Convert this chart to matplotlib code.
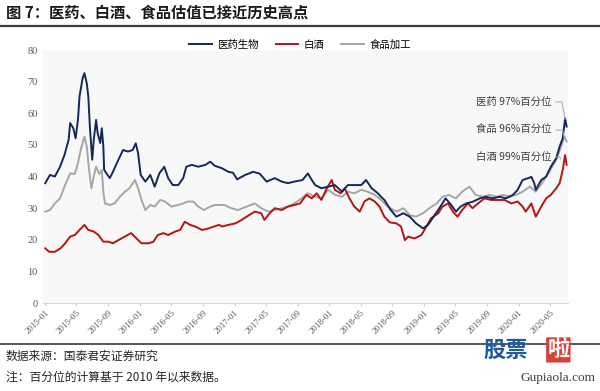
import matplotlib
matplotlib.use("Agg")
import matplotlib.pyplot as plt
import matplotlib.dates as mdates
import pandas as pd

plt.rcParams['font.family'] = ['Noto Sans CJK SC', 'DejaVu Sans']

# ---------------- data ----------------
med_dates = ["2015-01-01","2015-01-19","2015-02-07","2015-02-27","2015-03-16","2015-04-01","2015-04-07","2015-04-19",
             "2015-04-28","2015-05-07","2015-05-13","2015-05-25","2015-06-01","2015-06-10","2015-06-16","2015-06-22",
             "2015-07-01","2015-07-07","2015-07-16","2015-07-22","2015-08-01","2015-08-07","2015-08-13","2015-08-16",
             "2015-08-25","2015-09-07","2015-09-19","2015-10-10","2015-10-28","2015-11-16","2015-12-04","2015-12-16",
             "2015-12-25","2016-01-04","2016-01-22","2016-02-10","2016-02-27","2016-03-16","2016-04-04","2016-04-19",
             "2016-05-07","2016-05-28","2016-06-16","2016-06-28","2016-07-19","2016-08-13","2016-09-10","2016-09-28",
             "2016-10-16","2016-11-13","2016-12-07","2016-12-25","2017-01-10","2017-02-10","2017-03-13","2017-04-07",
             "2017-05-04","2017-06-04","2017-07-01","2017-07-25","2017-08-19","2017-09-19","2017-10-10","2017-10-25",
             "2017-11-07","2017-12-01","2017-12-28","2018-01-22","2018-02-19","2018-03-13","2018-04-07","2018-05-04",
             "2018-05-22","2018-06-13","2018-07-07","2018-07-19","2018-08-01","2018-08-22","2018-09-16","2018-10-13",
             "2018-11-07","2018-12-01","2018-12-28","2019-01-16","2019-02-07","2019-03-01","2019-03-25","2019-04-16",
             "2019-05-04","2019-05-22","2019-06-13","2019-07-07","2019-08-04","2019-08-28","2019-09-22","2019-10-19",
             "2019-11-13","2019-12-10","2019-12-28","2020-01-16","2020-02-07","2020-02-19","2020-03-01","2020-03-07",
             "2020-03-28","2020-04-16","2020-05-04","2020-05-25","2020-06-07","2020-06-19","2020-06-28","2020-07-04"]
med_vals = [37.9,40.5,40.0,43.1,46.8,51.6,56.9,55.3,
            52.1,57.9,65.3,71.1,72.7,69.5,65.3,55.8,
            45.3,51.6,57.9,53.7,50.6,55.3,49.5,42.1,
            41.0,39.5,41.5,45.3,48.4,47.9,48.4,50.5,
            47.4,40.5,38.4,40.5,36.8,41.0,43.1,39.5,
            37.3,37.3,39.5,43.1,43.7,43.1,43.7,44.7,
            43.4,42.6,41.5,41.2,39.1,40.5,41.5,40.9,
            38.4,39.5,38.4,37.9,38.4,38.9,41.0,38.9,
            37.3,36.3,36.8,37.3,35.2,37.3,37.3,37.3,
            38.9,36.3,34.7,33.6,32.6,29.8,27.3,28.4,
            27.3,25.2,23.6,24.7,27.3,30.0,33.1,31.0,
            28.9,30.5,31.5,32.0,33.1,33.6,33.1,33.6,
            33.1,34.2,35.8,38.9,39.5,39.9,37.9,35.8,
            38.9,40.0,43.1,45.8,49.5,52.1,58.4,55.8]

food_dates = ["2015-01-01","2015-01-19","2015-02-07","2015-02-27","2015-03-16","2015-04-07","2015-04-25","2015-05-07",
              "2015-05-19","2015-06-01","2015-06-10","2015-06-19","2015-06-28","2015-07-07","2015-07-16","2015-07-28",
              "2015-08-07","2015-08-13","2015-08-19","2015-09-07","2015-09-25","2015-10-16","2015-11-04","2015-11-22",
              "2015-12-13","2015-12-25","2016-01-07","2016-01-22","2016-02-10","2016-02-27","2016-03-19","2016-04-07",
              "2016-05-01","2016-05-28","2016-06-16","2016-07-04","2016-07-25","2016-08-13","2016-09-04","2016-09-28",
              "2016-10-16","2016-11-22","2016-12-19","2017-01-13","2017-02-16","2017-03-19","2017-04-13","2017-05-10",
              "2017-06-04","2017-07-01","2017-07-25","2017-08-19","2017-09-16","2017-10-10","2017-11-07","2017-12-01",
              "2017-12-28","2018-01-22","2018-02-19","2018-03-13","2018-04-07","2018-05-04","2018-05-28","2018-06-25",
              "2018-07-19","2018-08-07","2018-08-28","2018-09-16","2018-10-13","2018-11-07","2018-12-01","2018-12-28",
              "2019-01-22","2019-02-19","2019-03-13","2019-04-07","2019-05-04","2019-05-28","2019-06-25","2019-07-19",
              "2019-08-16","2019-09-10","2019-10-07","2019-11-01","2019-11-28","2019-12-22","2020-01-16","2020-02-13",
              "2020-03-07","2020-04-04","2020-04-28","2020-05-25","2020-06-13","2020-06-25","2020-07-04"]
food_vals = [28.9,29.4,31.5,33.1,36.8,41.0,40.8,44.2,
             48.9,52.6,49.5,42.1,36.3,40.0,43.1,40.8,
             42.1,35.2,31.5,31.0,31.5,33.6,35.2,36.3,
             38.9,36.3,32.6,29.4,31.0,30.5,32.6,32.1,
             30.5,31.0,31.5,32.1,32.1,30.5,29.4,30.5,
             31.0,31.0,30.0,29.4,30.5,31.5,30.0,28.9,
             29.4,30.0,30.5,31.5,33.1,34.7,33.6,33.1,
             35.8,34.2,33.6,35.2,34.7,35.8,35.2,34.2,
             32.6,31.0,29.8,28.9,30.0,27.8,27.3,28.4,
             30.0,31.5,33.6,34.2,33.1,35.2,36.8,34.2,
             33.6,34.2,33.6,34.2,33.6,34.2,35.2,36.8,
             35.2,38.4,41.5,45.3,49.5,52.6,51.1]

liquor_dates = ["2015-01-01","2015-01-16","2015-02-07","2015-03-01","2015-03-19","2015-04-07","2015-04-25","2015-05-13",
                "2015-06-01","2015-06-16","2015-07-07","2015-07-25","2015-08-13","2015-09-01","2015-09-19","2015-10-10",
                "2015-11-04","2015-11-28","2015-12-19","2016-01-07","2016-02-04","2016-02-22","2016-03-10","2016-04-01",
                "2016-04-19","2016-05-16","2016-06-04","2016-06-22","2016-07-13","2016-08-01","2016-08-28","2016-09-22",
                "2016-10-13","2016-11-01","2016-11-13","2016-12-07","2017-01-04","2017-01-28","2017-02-25","2017-03-19",
                "2017-04-13","2017-04-25","2017-05-16","2017-06-04","2017-07-01","2017-07-25","2017-08-19","2017-09-10",
                "2017-10-04","2017-10-25","2017-11-13","2017-12-01","2017-12-22","2018-01-10","2018-01-22","2018-02-13",
                "2018-03-01","2018-03-19","2018-04-07","2018-04-28","2018-05-16","2018-06-04","2018-06-25","2018-07-13",
                "2018-08-01","2018-08-22","2018-09-16","2018-10-04","2018-10-19","2018-11-01","2018-11-25","2018-12-22",
                "2019-01-10","2019-01-28","2019-02-25","2019-03-13","2019-04-04","2019-04-22","2019-05-10","2019-05-28",
                "2019-06-19","2019-07-07","2019-07-28","2019-08-22","2019-09-16","2019-10-13","2019-11-07","2019-12-04",
                "2019-12-28","2020-01-16","2020-01-28","2020-02-19","2020-03-07","2020-03-28","2020-04-16","2020-05-04",
                "2020-05-25","2020-06-07","2020-06-19","2020-06-28","2020-07-04"]
liquor_vals = [17.3,16.2,16.2,17.3,18.9,21.0,21.5,23.1,
               24.7,23.1,22.6,21.5,19.4,19.4,18.9,19.9,
               21.0,22.1,20.4,18.9,18.9,19.4,21.5,22.1,
               21.5,22.6,23.1,25.7,24.7,24.2,23.1,23.6,
               24.2,24.7,24.2,24.7,25.2,26.3,27.8,28.9,
               28.4,26.3,28.4,30.0,29.4,30.5,31.0,31.5,
               34.2,33.1,34.7,32.6,36.3,38.9,35.8,34.7,
               36.3,33.1,30.5,28.9,32.1,33.1,32.1,30.5,
               27.3,25.5,25.2,24.2,19.9,21.0,20.4,21.5,
               24.2,26.8,28.4,30.5,31.5,28.9,27.3,29.4,
               31.5,30.0,31.5,33.1,32.6,32.6,32.6,31.5,
               32.1,30.5,28.9,31.5,27.3,30.5,33.1,34.2,
               36.3,37.9,42.1,46.8,43.7]

series_names = ["医药生物", "白酒", "食品加工"]
tick_labels = ["2015-01","2015-05","2015-09","2016-01","2016-05","2016-09","2017-01","2017-05","2017-09",
               "2018-01","2018-05","2018-09","2019-01","2019-05","2019-09","2020-01","2020-05"]
note_texts = ["医药 97%百分位", "食品 96%百分位", "白酒 99%百分位"]
note_text_pos = [("2019-07-21", 63.6), ("2019-07-21", 54.7), ("2019-07-21", 46.2)]
note_targets = [("2020-06-28", 58.0), ("2020-06-25", 52.0), ("2020-06-10", 45.5)]

title = "图 7：医药、白酒、食品估值已接近历史高点"
footer1 = "数据来源：国泰君安证券研究"
footer2 = "注：百分位的计算基于 2010 年以来数据。"

# ---------------- figure ----------------
fig = plt.figure(figsize=(6.0, 3.91), dpi=100)
ax = fig.add_axes([0.072, 0.225, 0.875, 0.647])
ax.set_facecolor('#f8f8f8')

c_med, c_liq, c_food = '#14285a', '#b41414', '#a6a6a6'
ax.plot(pd.to_datetime(food_dates), food_vals, color=c_food, lw=1.4, label=series_names[2], zorder=2)
ax.plot(pd.to_datetime(liquor_dates), liquor_vals, color=c_liq, lw=1.4, label=series_names[1], zorder=3)
ax.plot(pd.to_datetime(med_dates), med_vals, color=c_med, lw=1.4, label=series_names[0], zorder=4)

ax.set_ylim(0, 80)
ax.set_yticks(range(0, 81, 10))
ax.set_xlim(pd.Timestamp("2014-12-24"), pd.Timestamp("2020-07-10"))
ax.set_xticks(pd.to_datetime(tick_labels))
ax.set_xticklabels(tick_labels, rotation=45, ha='right', rotation_mode='anchor',
                   fontsize=6.5, color='#595959', family=['Liberation Serif'])
for lab in ax.get_yticklabels():
    lab.set_fontfamily(['Liberation Serif'])
    lab.set_fontsize(7.5)
    lab.set_color('#595959')
ax.tick_params(axis='y', length=0, pad=4)
ax.tick_params(axis='x', length=2, color='#d0d0d0', pad=2)
for s in ['top', 'right', 'left']:
    ax.spines[s].set_visible(False)
ax.spines['bottom'].set_color('#d9d9d9')
ax.spines['bottom'].set_linewidth(0.8)

# annotations
for txt, (tx, ty), (px, py) in zip(note_texts, note_text_pos, note_targets):
    ax.annotate(txt, xy=(pd.Timestamp(px), py), xytext=(pd.Timestamp(tx), ty),
                fontsize=7.5, color='#404040', ha='left', va='center',
                arrowprops=dict(arrowstyle='-', color='#a6a6a6', lw=0.7, shrinkA=1, shrinkB=0,
                                connectionstyle='angle,angleA=0,angleB=100,rad=0'),
                zorder=5)

# legend
h, l = ax.get_legend_handles_labels()
order = [2, 1, 0]
fig.legend([h[i] for i in order], [l[i] for i in order], loc='center', bbox_to_anchor=(0.5, 0.885),
           ncol=3, frameon=False, fontsize=7.5, handlelength=2.2, columnspacing=1.6, handletextpad=0.5)

# title, rules, footer
fig.text(0.01, 0.968, title, fontsize=11, fontweight='bold', color='#1a1a1a', va='center', ha='left')
fig.add_artist(plt.Line2D([0.0, 1.0], [0.934, 0.934], color='#3a3a3a', lw=1.6))
fig.add_artist(plt.Line2D([0.0, 1.0], [0.12, 0.12], color='#3a3a3a', lw=1.2))
fig.text(0.01, 0.09, footer1, fontsize=8.5, color='#262626', va='center', ha='left')
fig.text(0.01, 0.035, footer2, fontsize=8.5, color='#262626', va='center', ha='left')

# watermark
fig.text(0.805, 0.105, "股票", fontsize=16, fontweight='bold', color='#1f5a9e', va='center', ha='left')
fig.text(0.912, 0.105, "啦", fontsize=16, fontweight='bold', color='white', va='center', ha='left',
         bbox=dict(boxstyle='round,pad=0.05', fc='#d9403a', ec='none'))
fig.text(0.993, 0.033, "Gupiaola.com", fontsize=9.5, color='#404040', va='center', ha='right',
         family=['Liberation Serif'])

fig.savefig("out.png", dpi=100)
